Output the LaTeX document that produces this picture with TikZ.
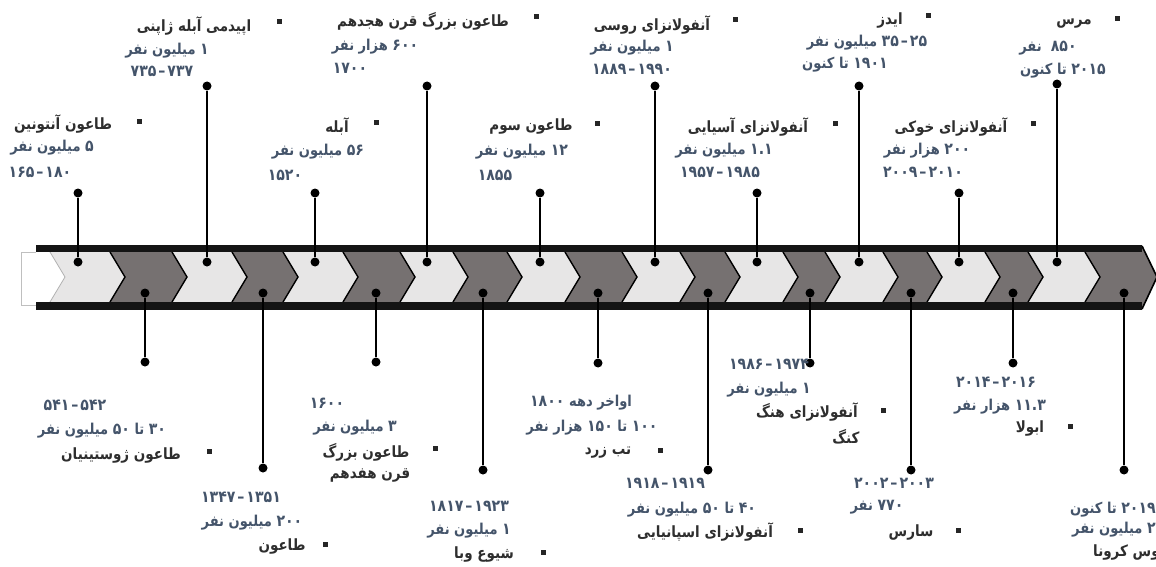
\documentclass[tikz,border=0pt]{standalone}
\usepackage{fontspec}
\TeXXeTstate=1
\newfontfamily\fa[Script=Arabic,FakeStretch=0.87]{DejaVu Sans}
\newfontfamily\fd[Scale=1.08,FakeStretch=0.87]{DejaVu Sans}
\definecolor{lightc}{HTML}{E7E6E6}
\definecolor{darkc}{HTML}{767171}
\definecolor{barc}{HTML}{141414}
\definecolor{ttlc}{HTML}{2E2E2E}
\definecolor{bluec}{HTML}{44546A}
\newcommand\nm[1]{\beginL{\fd #1}\endL}
\newcommand\rt[1]{\beginR #1\endR}
\newcommand\rg[2]{#1\kern2pt–\kern2pt#2}
\newcommand\dg[2]{{\fd\rg{#1}{#2}}}
\begin{document}
\begin{tikzpicture}[x=1pt,y=-1pt,
  dot/.style={circle,fill=black,inner sep=0pt,minimum size=9pt},
  conn/.style={line width=2.6pt,black},
  ttl/.style={inner sep=0pt,text=ttlc,font=\fa\bfseries\fontsize{15.5}{17}\selectfont},
  blu/.style={inner sep=0pt,text=bluec,font=\fa\bfseries\fontsize{15}{17}\selectfont},
  bul/.style={rectangle,fill=black!85,inner sep=0pt,minimum size=5pt},
]
\useasboundingbox (0,0) rectangle (1156,567);
% faint left piece
\draw[black!25,line width=0.6pt] (36,252) -- (21,252) -- (21,305) -- (36,305);
% chevrons
\foreach \l/\r/\c in {50/110/lightc,110/172/darkc,172/232/lightc,232/283/darkc,283/343/lightc,343/400/darkc,400/453/lightc,453/507/darkc,507/565/lightc,565/622/darkc,622/680/lightc,680/725/darkc,725/783/lightc,783/825/darkc,825/883/lightc,883/927/darkc,927/985/lightc,985/1028/darkc,1028/1085/lightc,1085/1142/darkc}{
  \fill[\c] (\l,252) -- (\r,252) -- (\r+15,277) -- (\r,302) -- (\l,302) -- (\l+15,277) -- cycle;
}
\draw[black!30,line width=0.8pt] (50,252) -- (65,277) -- (50,302);
\foreach \r in {110,172,232,283,343,400,453,507,565,622,680,725,783,825,883,927,985,1028,1085}{
  \draw[black,line width=1.4pt,line join=miter] (\r,252) -- (\r+15,277) -- (\r,302);
}
\fill[darkc] (1142,246) -- (1157,277) -- (1142,309) -- cycle;
\draw[black,line width=1.6pt] (1142,246) -- (1157,277) -- (1142,309);
% bars
\fill[barc] (36,245) rectangle (1142,252);
\fill[barc] (36,302) rectangle (1142,310);

% top dots and connectors
\foreach \n/\x/\e in {1/78/193,2/207/86,3/315/193,4/427/86,5/540/193,6/655/86,7/757/193,8/859/86,9/959/193,10/1057/84}{
  \node[dot] (a\n) at (\x,262) {};
  \node[dot] (ae\n) at (\x,\e) {};
  \draw[conn] (a\n) -- (ae\n);
}
% bottom dots and connectors
\foreach \n/\x/\e in {1/145/362,2/263/468,3/376/362,4/483/470,5/598/363,6/708/470,7/810/363,8/911/470,9/1013/363,10/1124/470}{
  \node[dot] (b\n) at (\x,293) {};
  \node[dot] (be\n) at (\x,\e) {};
  \draw[conn] (b\n) -- (be\n);
}

% ---------- top labels ----------
\node[bul] (tq1) at (139,122) {};
\node[ttl] (t1a) at (63,124) {\rt{طاعون آنتونین}};
\node[blu] (t1b) at (52,148) {\rt{\nm{۵} میلیون نفر}};
\node[blu] (t1c) at (40,172) {\dg{۱۶۵}{۱۸۰}};

\node[bul] (tq2) at (279,22) {};
\node[ttl] (t2a) at (194,26) {\rt{اپیدمی آبله ژاپنی}};
\node[blu] (t2b) at (167,51) {\rt{\nm{۱} میلیون نفر}};
\node[blu] (t2c) at (162,71) {\dg{۷۳۵}{۷۳۷}};

\node[bul] (tq3) at (376,123) {};
\node[ttl] (t3a) at (337,126) {\rt{آبله}};
\node[blu] (t3b) at (318,152) {\rt{\nm{۵۶} میلیون نفر}};
\node[blu] (t3c) at (285,175) {{\fd ۱۵۲۰}};

\node[bul] (tq4) at (536,17) {};
\node[ttl] (t4a) at (423,21) {\rt{طاعون بزرگ قرن هجدهم}};
\node[blu] (t4b) at (375,47) {\rt{\nm{۶۰۰} هزار نفر}};
\node[blu] (t4c) at (350,68) {{\fd ۱۷۰۰}};

\node[bul] (tq5) at (597,124) {};
\node[ttl] (t5a) at (531,127) {\rt{طاعون سوم}};
\node[blu] (t5b) at (522,152) {\rt{\nm{۱۲} میلیون نفر}};
\node[blu] (t5c) at (495,175) {{\fd ۱۸۵۵}};

\node[bul] (tq6) at (735,20) {};
\node[ttl] (t6a) at (652,25) {\rt{آنفولانزای روسی}};
\node[blu] (t6b) at (632,48) {\rt{\nm{۱} میلیون نفر}};
\node[blu] (t6c) at (632,69) {\dg{۱۸۸۹}{۱۹۹۰}};

\node[bul] (tq7) at (835,124) {};
\node[ttl] (t7a) at (748,127) {\rt{آنفولانزای آسیایی}};
\node[blu] (t7b) at (724,151) {\rt{\nm{۱.۱} میلیون نفر}};
\node[blu] (t7c) at (720,172) {\dg{۱۹۵۷}{۱۹۸۵}};

\node[bul] (tq8) at (928,16) {};
\node[ttl] (t8a) at (890,21) {\rt{ایدز}};
\node[blu] (t8b) at (867,43) {\rt{\nm{\rg{۳۵}{۲۵}} میلیون نفر}};
\node[blu] (t8c) at (845,65) {\rt{\nm{۱۹۰۱} تا کنون}};

\node[bul] (tq9) at (1033,124) {};
\node[ttl] (t9a) at (951,127) {\rt{آنفولانزای خوکی}};
\node[blu] (t9b) at (927,151) {\rt{\nm{۲۰۰} هزار نفر}};
\node[blu] (t9c) at (923,172) {\dg{۲۰۰۹}{۲۰۱۰}};

\node[bul] (tq10) at (1117,19) {};
\node[ttl] (t10a) at (1074,24) {\rt{مرس}};
\node[blu] (t10b) at (1048,48) {\rt{\nm{۸۵۰}\ \ نفر}};
\node[blu] (t10c) at (1063,71) {\rt{\nm{۲۰۱۵} تا کنون}};

% ---------- bottom labels ----------
\node[blu] (u1a) at (75,405) {\dg{۵۴۱}{۵۴۲}};
\node[blu] (u1b) at (102,431) {\rt{\nm{۳۰} تا \nm{۵۰} میلیون نفر}};
\node[ttl] (u1c) at (121,455) {\rt{طاعون ژوستینیان}};
\node[bul] (uq1) at (209,451) {};

\node[blu] (u2a) at (241,497) {\dg{۱۳۴۷}{۱۳۵۱}};
\node[blu] (u2b) at (252,523) {\rt{\nm{۲۰۰} میلیون نفر}};
\node[ttl] (u2c) at (282,546) {\rt{طاعون}};
\node[bul] (uq2) at (325,544) {};

\node[blu] (u3a) at (327,403) {{\fd ۱۶۰۰}};
\node[blu] (u3b) at (355,428) {\rt{\nm{۳} میلیون نفر}};
\node[ttl] (u3c) at (366,452) {\rt{طاعون بزرگ}};
\node[ttl] (u3d) at (370,475) {\rt{قرن هفدهم}};
\node[bul] (uq3) at (435,448) {};

\node[blu] (u4a) at (469,506) {\dg{۱۸۱۷}{۱۹۲۳}};
\node[blu] (u4b) at (469,531) {\rt{\nm{۱} میلیون نفر}};
\node[ttl] (u4c) at (484,554) {\rt{شیوع وبا}};
\node[bul] (uq4) at (543,552) {};

\node[blu] (u5a) at (581,403) {\rt{اواخر دهه \nm{۱۸۰۰}}};
\node[blu] (u5b) at (592,428) {\rt{\nm{۱۰۰} تا \nm{۱۵۰} هزار نفر}};
\node[ttl] (u5c) at (608,453) {\rt{تب زرد}};
\node[bul] (uq5) at (660,450) {};

\node[blu] (u6a) at (665,483) {\dg{۱۹۱۸}{۱۹۱۹}};
\node[blu] (u6b) at (692,510) {\rt{\nm{۴۰} تا \nm{۵۰} میلیون نفر}};
\node[ttl] (u6c) at (705,532) {\rt{آنفولانزای اسپانیایی}};
\node[bul] (uq6) at (800,530) {};

\node[blu] (u7a) at (769,364) {\dg{۱۹۸۶}{۱۹۷۴}};
\node[blu] (u7b) at (769,390) {\rt{\nm{۱} میلیون نفر}};
\node[ttl] (u7c) at (807,412) {\rt{آنفولانزای هنگ}};
\node[ttl] (u7d) at (846,437) {\rt{کنگ}};
\node[bul] (uq7) at (883,410) {};

\node[blu] (u8a) at (894,483) {\dg{۲۰۰۲}{۲۰۰۳}};
\node[blu] (u8b) at (877,507) {\rt{\nm{۷۷۰} نفر}};
\node[ttl] (u8c) at (911,532) {\rt{سارس}};
\node[bul] (uq8) at (958,530) {};

\node[blu] (u9a) at (996,382) {\dg{۲۰۱۴}{۲۰۱۶}};
\node[blu] (u9b) at (1000,407) {\rt{\nm{۱۱.۳} هزار نفر}};
\node[ttl] (u9c) at (1030,428) {\rt{ابولا}};
\node[bul] (uq9) at (1070,426) {};

\node[blu,anchor=west] (u10a) at (1070,510) {\rt{\nm{۲۰۱۹} تا کنون}};
\node[blu,anchor=west] (u10b) at (1072,530) {\rt{\nm{۲} میلیون نفر}};
\node[ttl,anchor=west] (u10c) at (1093,552) {\rt{ویروس کرونا}};
\end{tikzpicture}
\end{document}
